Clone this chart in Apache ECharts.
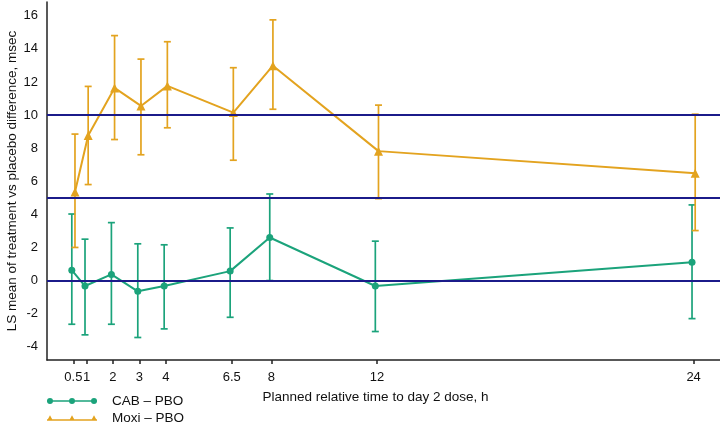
<!DOCTYPE html>
<html><head><meta charset="utf-8">
<script src="https://cdn.jsdelivr.net/npm/echarts@6/dist/echarts.min.js"></script>
<style>html,body{margin:0;padding:0;background:#fff}#c{width:720px;height:423px}</style>
</head><body><div id="c"></div>
<script>
const times = [0.5, 1, 2, 3, 4, 6.5, 8, 12, 24];
const cabMean = [0.63, -0.33, 0.37, -0.65, -0.33, 0.57, 2.6, -0.33, 1.11];
const cabLow  = [-2.64, -3.28, -2.64, -3.44, -2.92, -2.22, 0.0, -3.08, -2.3];
const cabHigh = [4.02, 2.5, 3.5, 2.22, 2.16, 3.18, 5.23, 2.38, 4.57];
const moxiMean = [5.35, 8.76, 11.64, 10.55, 11.76, 10.15, 12.98, 7.82, 6.49];
const moxiLow  = [2.0, 5.8, 8.52, 7.6, 9.23, 7.27, 10.35, 4.95, 3.02];
const moxiHigh = [8.85, 11.73, 14.8, 13.38, 14.43, 12.86, 15.75, 10.6, 10.05];
const refLines = [0, 5, 10];
const yTicks = [-4, -2, 0, 2, 4, 6, 8, 10, 12, 14, 16];
const xTicks = [0.5, 1, 2, 3, 4, 6.5, 8, 12, 24];
const seriesNames = ['CAB \u2013 PBO', 'Moxi \u2013 PBO'];

const GREEN = '#1BA37B', ORANGE = '#E3A31F', NAVY = '#1B1B8A';
const FONT = '"Liberation Sans", Arial, sans-serif';
const dodge = 0.06;

function errData(lo, hi, off) {
  return times.map((t, i) => [t + off, lo[i], hi[i]]);
}
function errRender(color) {
  return function (params, api) {
    const x = api.value(0);
    const p1 = api.coord([x, api.value(1)]);
    const p2 = api.coord([x, api.value(2)]);
    const w = 3.5;
    const st = { stroke: color, lineWidth: 1.7, fill: null };
    return { type: 'group', children: [
      { type: 'line', shape: { x1: p1[0], y1: p1[1], x2: p2[0], y2: p2[1] }, style: st },
      { type: 'line', shape: { x1: p1[0] - w, y1: p1[1], x2: p1[0] + w, y2: p1[1] }, style: st },
      { type: 'line', shape: { x1: p2[0] - w, y1: p2[1], x2: p2[0] + w, y2: p2[1] }, style: st }
    ]};
  };
}

const cabIcon = 'path://M0,2.25 L50,2.25 L50,3.75 L0,3.75 Z M0,3 A3,3 0 1,1 6,3 A3,3 0 1,1 0,3 Z M22,3 A3,3 0 1,1 28,3 A3,3 0 1,1 22,3 Z M44,3 A3,3 0 1,1 50,3 A3,3 0 1,1 44,3 Z';
const moxiIcon = 'path://M0,4.6 L50,4.6 L50,5.9 L0,5.9 Z M0,6 L3,0.5 L6,6 Z M22,6 L25,0.5 L28,6 Z M44,6 L47,0.5 L50,6 Z';

const legendBase = {
  left: 47, orient: 'vertical', padding: 0, itemGap: 0,
  itemWidth: 50, itemHeight: 6,
  textStyle: { fontFamily: FONT, fontSize: 13.5, color: '#111', padding: [0, 0, 0, 10] }
};

const chart = echarts.init(document.getElementById('c'), null, { renderer: 'canvas' });
chart.setOption({
  animation: false,
  backgroundColor: '#fff',
  textStyle: { fontFamily: FONT },
  grid: { left: 47, right: 0, top: 2, bottom: 63, containLabel: false, outerBoundsMode: 'none' },
  legend: [
    Object.assign({}, legendBase, { top: 394, data: [{ name: seriesNames[0], icon: cabIcon, itemStyle: { color: GREEN } }] }),
    Object.assign({}, legendBase, { top: 411, data: [{ name: seriesNames[1], icon: moxiIcon, itemStyle: { color: ORANGE } }] })
  ],
  xAxis: {
    type: 'value', min: -0.5, max: 25,
    name: 'Planned relative time to day 2 dose, h', nameLocation: 'middle', nameGap: 30, nameMoveOverlap: false,
    nameTextStyle: { fontFamily: FONT, fontSize: 13.5, color: '#111', padding: [0, 16, 0, 0] },
    axisLine: { show: true, onZero: false, lineStyle: { color: '#222', width: 1.5 } },
    axisTick: { show: true, inside: false, length: 4, customValues: xTicks, lineStyle: { color: '#222', width: 1.5 } },
    axisLabel: { customValues: xTicks, margin: 11, fontFamily: FONT, fontSize: 13, color: '#111' },
    splitLine: { show: false }
  },
  yAxis: {
    type: 'value', min: -4.8, max: 16.83,
    name: 'LS mean of treatment vs placebo difference, msec', nameLocation: 'middle', nameGap: 28, nameMoveOverlap: false,
    nameTextStyle: { fontFamily: FONT, fontSize: 13.5, color: '#111' },
    axisLine: { show: true, onZero: false, lineStyle: { color: '#222', width: 1.5 } },
    axisTick: { show: false },
    axisLabel: { customValues: yTicks, margin: 9, fontFamily: FONT, fontSize: 13, color: '#111' },
    splitLine: { show: false }
  },
  series: [
    {
      name: 'refs', type: 'line', data: [], silent: true, z: 1,
      markLine: {
        silent: true, symbol: ['none', 'none'], label: { show: false },
        lineStyle: { color: NAVY, width: 1.8, type: 'solid' },
        data: refLines.map(v => ({ yAxis: v }))
      }
    },
    {
      name: seriesNames[0] + ' err', type: 'custom', z: 3,
      data: errData(cabLow, cabHigh, -dodge),
      renderItem: errRender(GREEN), silent: true
    },
    {
      name: seriesNames[1] + ' err', type: 'custom', z: 3,
      data: errData(moxiLow, moxiHigh, dodge),
      renderItem: errRender(ORANGE), silent: true
    },
    {
      name: seriesNames[0], type: 'line', z: 4,
      data: times.map((t, i) => [t - dodge, cabMean[i]]),
      symbol: 'circle', symbolSize: 7, showAllSymbol: true,
      lineStyle: { color: GREEN, width: 2 }, itemStyle: { color: GREEN }
    },
    {
      name: seriesNames[1], type: 'line', z: 4,
      data: times.map((t, i) => [t + dodge, moxiMean[i]]),
      symbol: 'triangle', symbolSize: 9, showAllSymbol: true,
      lineStyle: { color: ORANGE, width: 2 }, itemStyle: { color: ORANGE }
    }
  ]
});
</script></body></html>
